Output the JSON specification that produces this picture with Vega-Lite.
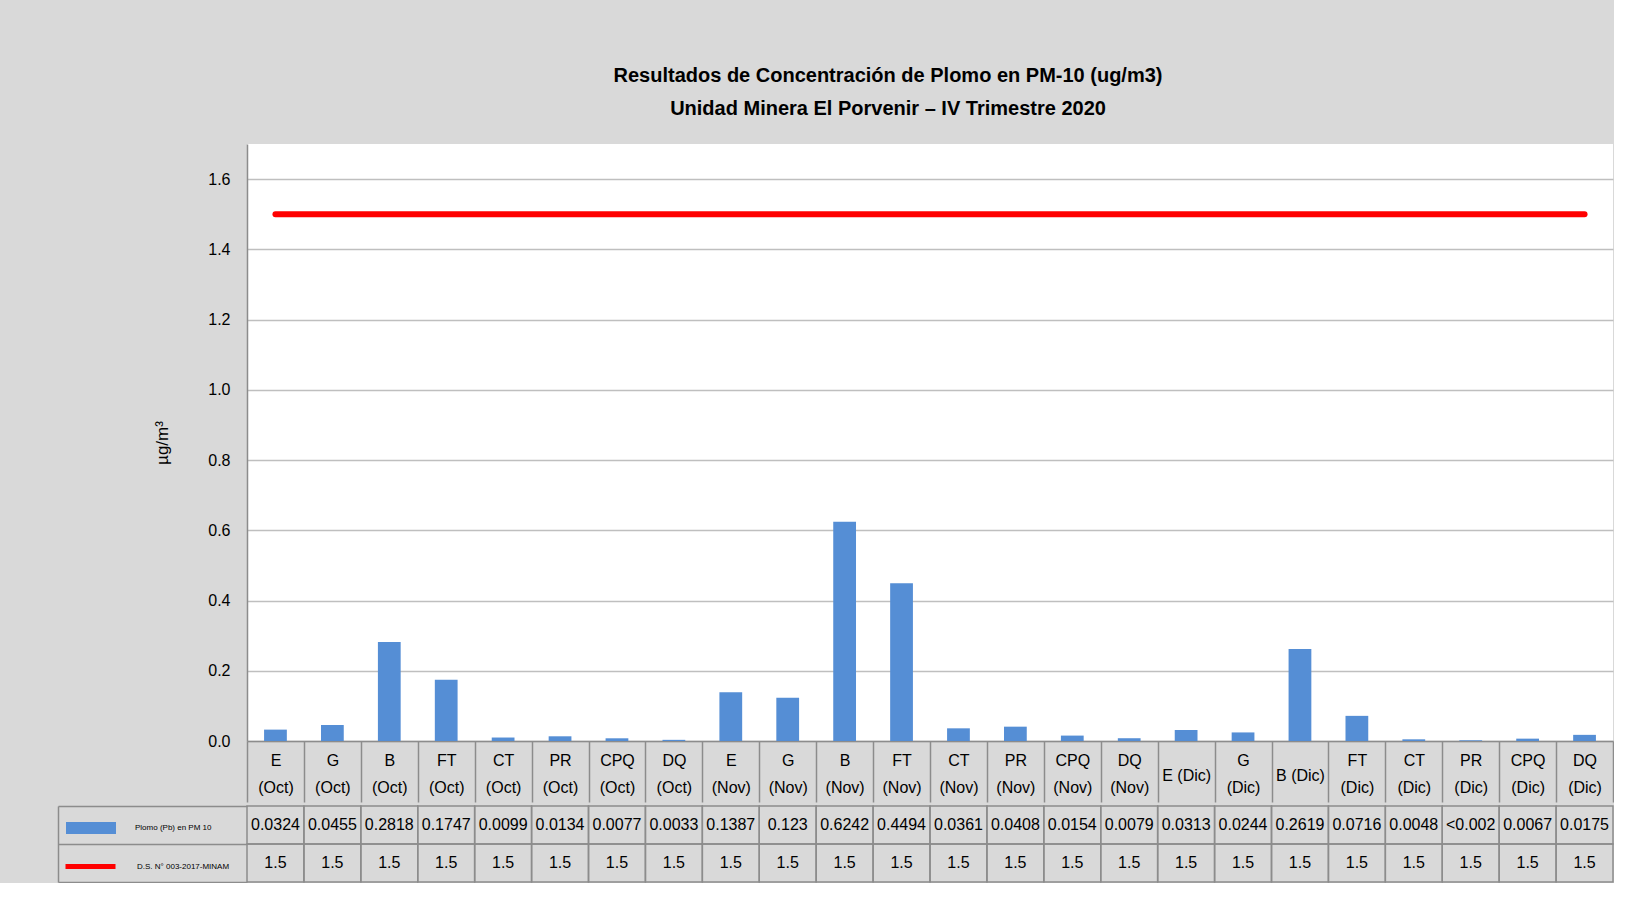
{
  "$schema": "https://vega.github.io/schema/vega-lite/v6.json",
  "background": "#d9d9d9",
  "padding": {"left": 57, "top": 66, "right": 0, "bottom": 0},
  "spacing": 0,
  "datasets": {
    "pb": [
      {"cat": "E (Oct)", "value": 0.0324, "txt": "0.0324", "limit": 1.5},
      {"cat": "G (Oct)", "value": 0.0455, "txt": "0.0455", "limit": 1.5},
      {"cat": "B (Oct)", "value": 0.2818, "txt": "0.2818", "limit": 1.5},
      {"cat": "FT (Oct)", "value": 0.1747, "txt": "0.1747", "limit": 1.5},
      {"cat": "CT (Oct)", "value": 0.0099, "txt": "0.0099", "limit": 1.5},
      {"cat": "PR (Oct)", "value": 0.0134, "txt": "0.0134", "limit": 1.5},
      {"cat": "CPQ (Oct)", "value": 0.0077, "txt": "0.0077", "limit": 1.5},
      {"cat": "DQ (Oct)", "value": 0.0033, "txt": "0.0033", "limit": 1.5},
      {"cat": "E (Nov)", "value": 0.1387, "txt": "0.1387", "limit": 1.5},
      {"cat": "G (Nov)", "value": 0.123, "txt": "0.123", "limit": 1.5},
      {"cat": "B (Nov)", "value": 0.6242, "txt": "0.6242", "limit": 1.5},
      {"cat": "FT (Nov)", "value": 0.4494, "txt": "0.4494", "limit": 1.5},
      {"cat": "CT (Nov)", "value": 0.0361, "txt": "0.0361", "limit": 1.5},
      {"cat": "PR (Nov)", "value": 0.0408, "txt": "0.0408", "limit": 1.5},
      {"cat": "CPQ (Nov)", "value": 0.0154, "txt": "0.0154", "limit": 1.5},
      {"cat": "DQ (Nov)", "value": 0.0079, "txt": "0.0079", "limit": 1.5},
      {"cat": "E (Dic)", "value": 0.0313, "txt": "0.0313", "limit": 1.5},
      {"cat": "G (Dic)", "value": 0.0244, "txt": "0.0244", "limit": 1.5},
      {"cat": "B (Dic)", "value": 0.2619, "txt": "0.2619", "limit": 1.5},
      {"cat": "FT (Dic)", "value": 0.0716, "txt": "0.0716", "limit": 1.5},
      {"cat": "CT (Dic)", "value": 0.0048, "txt": "0.0048", "limit": 1.5},
      {"cat": "PR (Dic)", "value": 0.002, "txt": "<0.002", "limit": 1.5},
      {"cat": "CPQ (Dic)", "value": 0.0067, "txt": "0.0067", "limit": 1.5},
      {"cat": "DQ (Dic)", "value": 0.0175, "txt": "0.0175", "limit": 1.5}
    ]
  },
  "resolve": {"legend": {"color": "independent", "stroke": "independent"}},
  "vconcat": [
    {
      "width": 1366,
      "height": 597,
      "view": {"fill": "white", "stroke": null},
      "title": {
        "text": ["Resultados de Concentración de Plomo en PM-10 (ug/m3)", "Unidad Minera El Porvenir – IV Trimestre 2020"],
        "font": "Liberation Sans",
        "fontSize": 20,
        "fontWeight": "bold",
        "lineHeight": 33,
        "anchor": "middle",
        "dx": -42,
        "offset": 25,
        "color": "#000000"
      },
      "data": {"name": "pb"},
      "encoding": {
        "x": {
          "field": "cat", "type": "nominal", "sort": null,
          "scale": {"paddingInner": 0, "paddingOuter": 0},
          "axis": {
            "title": null, "domain": true, "domainColor": "#8c8c8c", "domainWidth": 1.5,
            "ticks": true, "tickBand": "extent", "tickSize": 61, "tickColor": "#8c8c8c", "tickWidth": 1.5,
            "labelAngle": 0, "labelFontSize": 16, "labelFont": "Liberation Sans", "labelColor": "#000000",
            "labelBaseline": "middle",
            "labelPadding": {"condition": {"test": "datum.label == 'E (Dic)' || datum.label == 'B (Dic)'", "value": -27}, "value": -42},
            "labelLineHeight": 27,
            "labelExpr": "datum.label == 'E (Dic)' || datum.label == 'B (Dic)' ? datum.label : split(datum.label, ' ')",
            "labelBound": false, "labelOverlap": false, "labelFlush": false
          }
        }
      },
      "layer": [
        {
          "mark": {"type": "bar", "width": {"band": 0.4}, "color": "#558ed5"},
          "encoding": {
            "y": {
              "field": "value", "type": "quantitative",
              "scale": {"domain": [0, 1.7], "nice": false},
              "axis": {
                "title": "µg/m³", "titleFont": "Liberation Sans", "titleFontSize": 17, "titleFontWeight": "normal",
                "titleColor": "#000000", "titlePadding": 36,
                "values": [0, 0.2, 0.4, 0.6, 0.8, 1.0, 1.2, 1.4, 1.6], "format": ".1f",
                "labelFont": "Liberation Sans", "labelFontSize": 16, "labelColor": "#000000", "labelPadding": 17,
                "ticks": false, "domain": true, "domainColor": "#8c8c8c", "domainWidth": 1.5,
                "grid": true, "gridColor": "#bfbfbf", "gridWidth": 1.5
              }
            }
          }
        },
        {
          "mark": {"type": "line", "strokeWidth": 6, "strokeCap": "round", "color": "#ff0000"},
          "encoding": {
            "y": {"field": "limit", "type": "quantitative", "title": "µg/m³"}
          }
        }
      ]
    },
    {
      "width": 1366,
      "height": 76,
      "view": {"fill": null, "stroke": null},
      "data": {"name": "pb"},
      "transform": [{"fold": ["txt", "limit"], "as": ["row", "val"]}],
      "encoding": {
        "x": {"field": "cat", "type": "nominal", "sort": null, "scale": {"paddingInner": 0, "paddingOuter": 0}, "axis": null},
        "y": {
          "field": "row", "type": "nominal",
          "scale": {"domain": ["txt", "limit"], "paddingInner": 0, "paddingOuter": 0},
          "axis": {
            "orient": "left", "offset": 189, "labels": false, "title": null,
            "domain": true, "domainColor": "#8c8c8c", "domainWidth": 1.5,
            "ticks": true, "tickBand": "extent", "tickSize": -189, "tickColor": "#8c8c8c", "tickWidth": 1.5
          }
        }
      },
      "layer": [
        {"mark": {"type": "rect", "fill": "transparent", "stroke": "#8c8c8c", "strokeWidth": 1.5}},
        {
          "mark": {"type": "text", "font": "Liberation Sans", "fontSize": 16, "color": "#000000"},
          "encoding": {"text": {"field": "val", "type": "nominal"}}
        },
        {
          "mark": {"type": "point", "filled": true, "opacity": 0},
          "encoding": {
            "color": {
              "datum": "Plomo (Pb) en PM 10",
              "scale": {"range": ["#558ed5"]},
              "legend": {
                "title": null, "orient": "none", "legendX": -181, "legendY": -3,
                "symbolType": "M-1,-0.24H1V0.24H-1Z", "symbolSize": 2500, "symbolStrokeWidth": 0, "symbolOpacity": 1,
                "labelFont": "Liberation Sans", "labelFontSize": 8, "labelColor": "#000000", "labelOffset": 19, "padding": 0
              }
            }
          }
        },
        {
          "mark": {"type": "point", "filled": false, "opacity": 0},
          "encoding": {
            "stroke": {
              "datum": "D.S. N° 003-2017-MINAM",
              "scale": {"range": ["#ff0000"]},
              "legend": {
                "title": null, "orient": "none", "legendX": -184, "legendY": 33,
                "symbolType": "stroke", "symbolSize": 2500, "symbolStrokeWidth": 5, "symbolOpacity": 1,
                "labelFont": "Liberation Sans", "labelFontSize": 8, "labelColor": "#000000", "labelOffset": 19, "padding": 0
              }
            }
          }
        }
      ]
    }
  ]
}
